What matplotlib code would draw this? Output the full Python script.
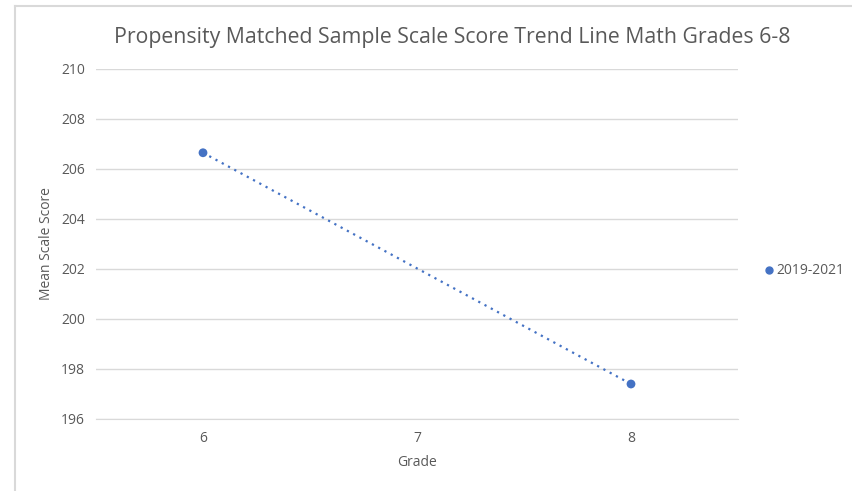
import numpy as np
import matplotlib.pyplot as plt
from matplotlib.lines import Line2D

# Scale score means by grade for the matched sample
grades = ["6", "7", "8"]
grade_values = [6, 8]
mean_scores = [206.65, 197.4]
series_name = "2019-2021"

yticks = [196, 198, 200, 202, 204, 206, 208, 210]

plt.rcParams['font.family'] = ['Open Sans', 'DejaVu Sans']
text_color = "#595959"
blue = "#4472C4"

fig = plt.figure(figsize=(8.52, 4.91), dpi=100)
W, H = 852, 491

# outer chart border: only the top and left edges fall inside the image
fig.add_artist(Line2D([15.5 / W, 15.5 / W], [0, 1 - 6 / H], transform=fig.transFigure,
                      color="#d9d9d9", linewidth=1.5))
fig.add_artist(Line2D([15.5 / W, 1], [1 - 6 / H, 1 - 6 / H], transform=fig.transFigure,
                      color="#d9d9d9", linewidth=1.5))

ax = fig.add_axes([96 / W, (H - 419) / H, (738 - 96) / W, 350 / H])

pos = [grades.index(str(g)) for g in grade_values]
ax.scatter(pos, mean_scores, color=blue, s=40, zorder=3, edgecolors="none")

# linear trend line through the two points
coef = np.polyfit(pos, mean_scores, 1)
xs = np.array([min(pos), max(pos)])
ax.plot(xs, np.polyval(coef, xs), color=blue, linestyle=(0, (1, 2.2)), linewidth=1.6, zorder=2)

ax.set_xlim(-0.5, len(grades) - 0.5)
ax.set_ylim(yticks[0], yticks[-1])
ax.set_xticks(range(len(grades)))
ax.set_xticklabels(grades)
ax.set_yticks(yticks)

ax.grid(axis="y", color="#d9d9d9", linewidth=1)
ax.set_axisbelow(True)
for side in ["top", "right", "left"]:
    ax.spines[side].set_visible(False)
ax.spines["bottom"].set_color("#d9d9d9")
ax.tick_params(length=0, colors=text_color, labelsize=10, pad=9)
ax.tick_params(axis="y", pad=8)

ax.set_xlabel("Grade", color=text_color, fontsize=10, labelpad=6)
ax.set_ylabel("Mean Scale Score", color=text_color, fontsize=10, labelpad=5)

fig.text(452 / W, 1 - 37 / H, "Propensity Matched Sample Scale Score Trend Line Math Grades 6-8",
         ha="center", va="center", color=text_color, fontsize=15.3)

handle = Line2D([], [], marker="o", color=blue, linestyle="none", markersize=5)
fig.legend([handle], [series_name], loc="center left", bbox_to_anchor=(756 / W, 1 - 271 / H),
           frameon=False, fontsize=10, labelcolor=text_color, handletextpad=0.1,
           handlelength=1, borderaxespad=0)

fig.savefig("out.png", dpi=100)
